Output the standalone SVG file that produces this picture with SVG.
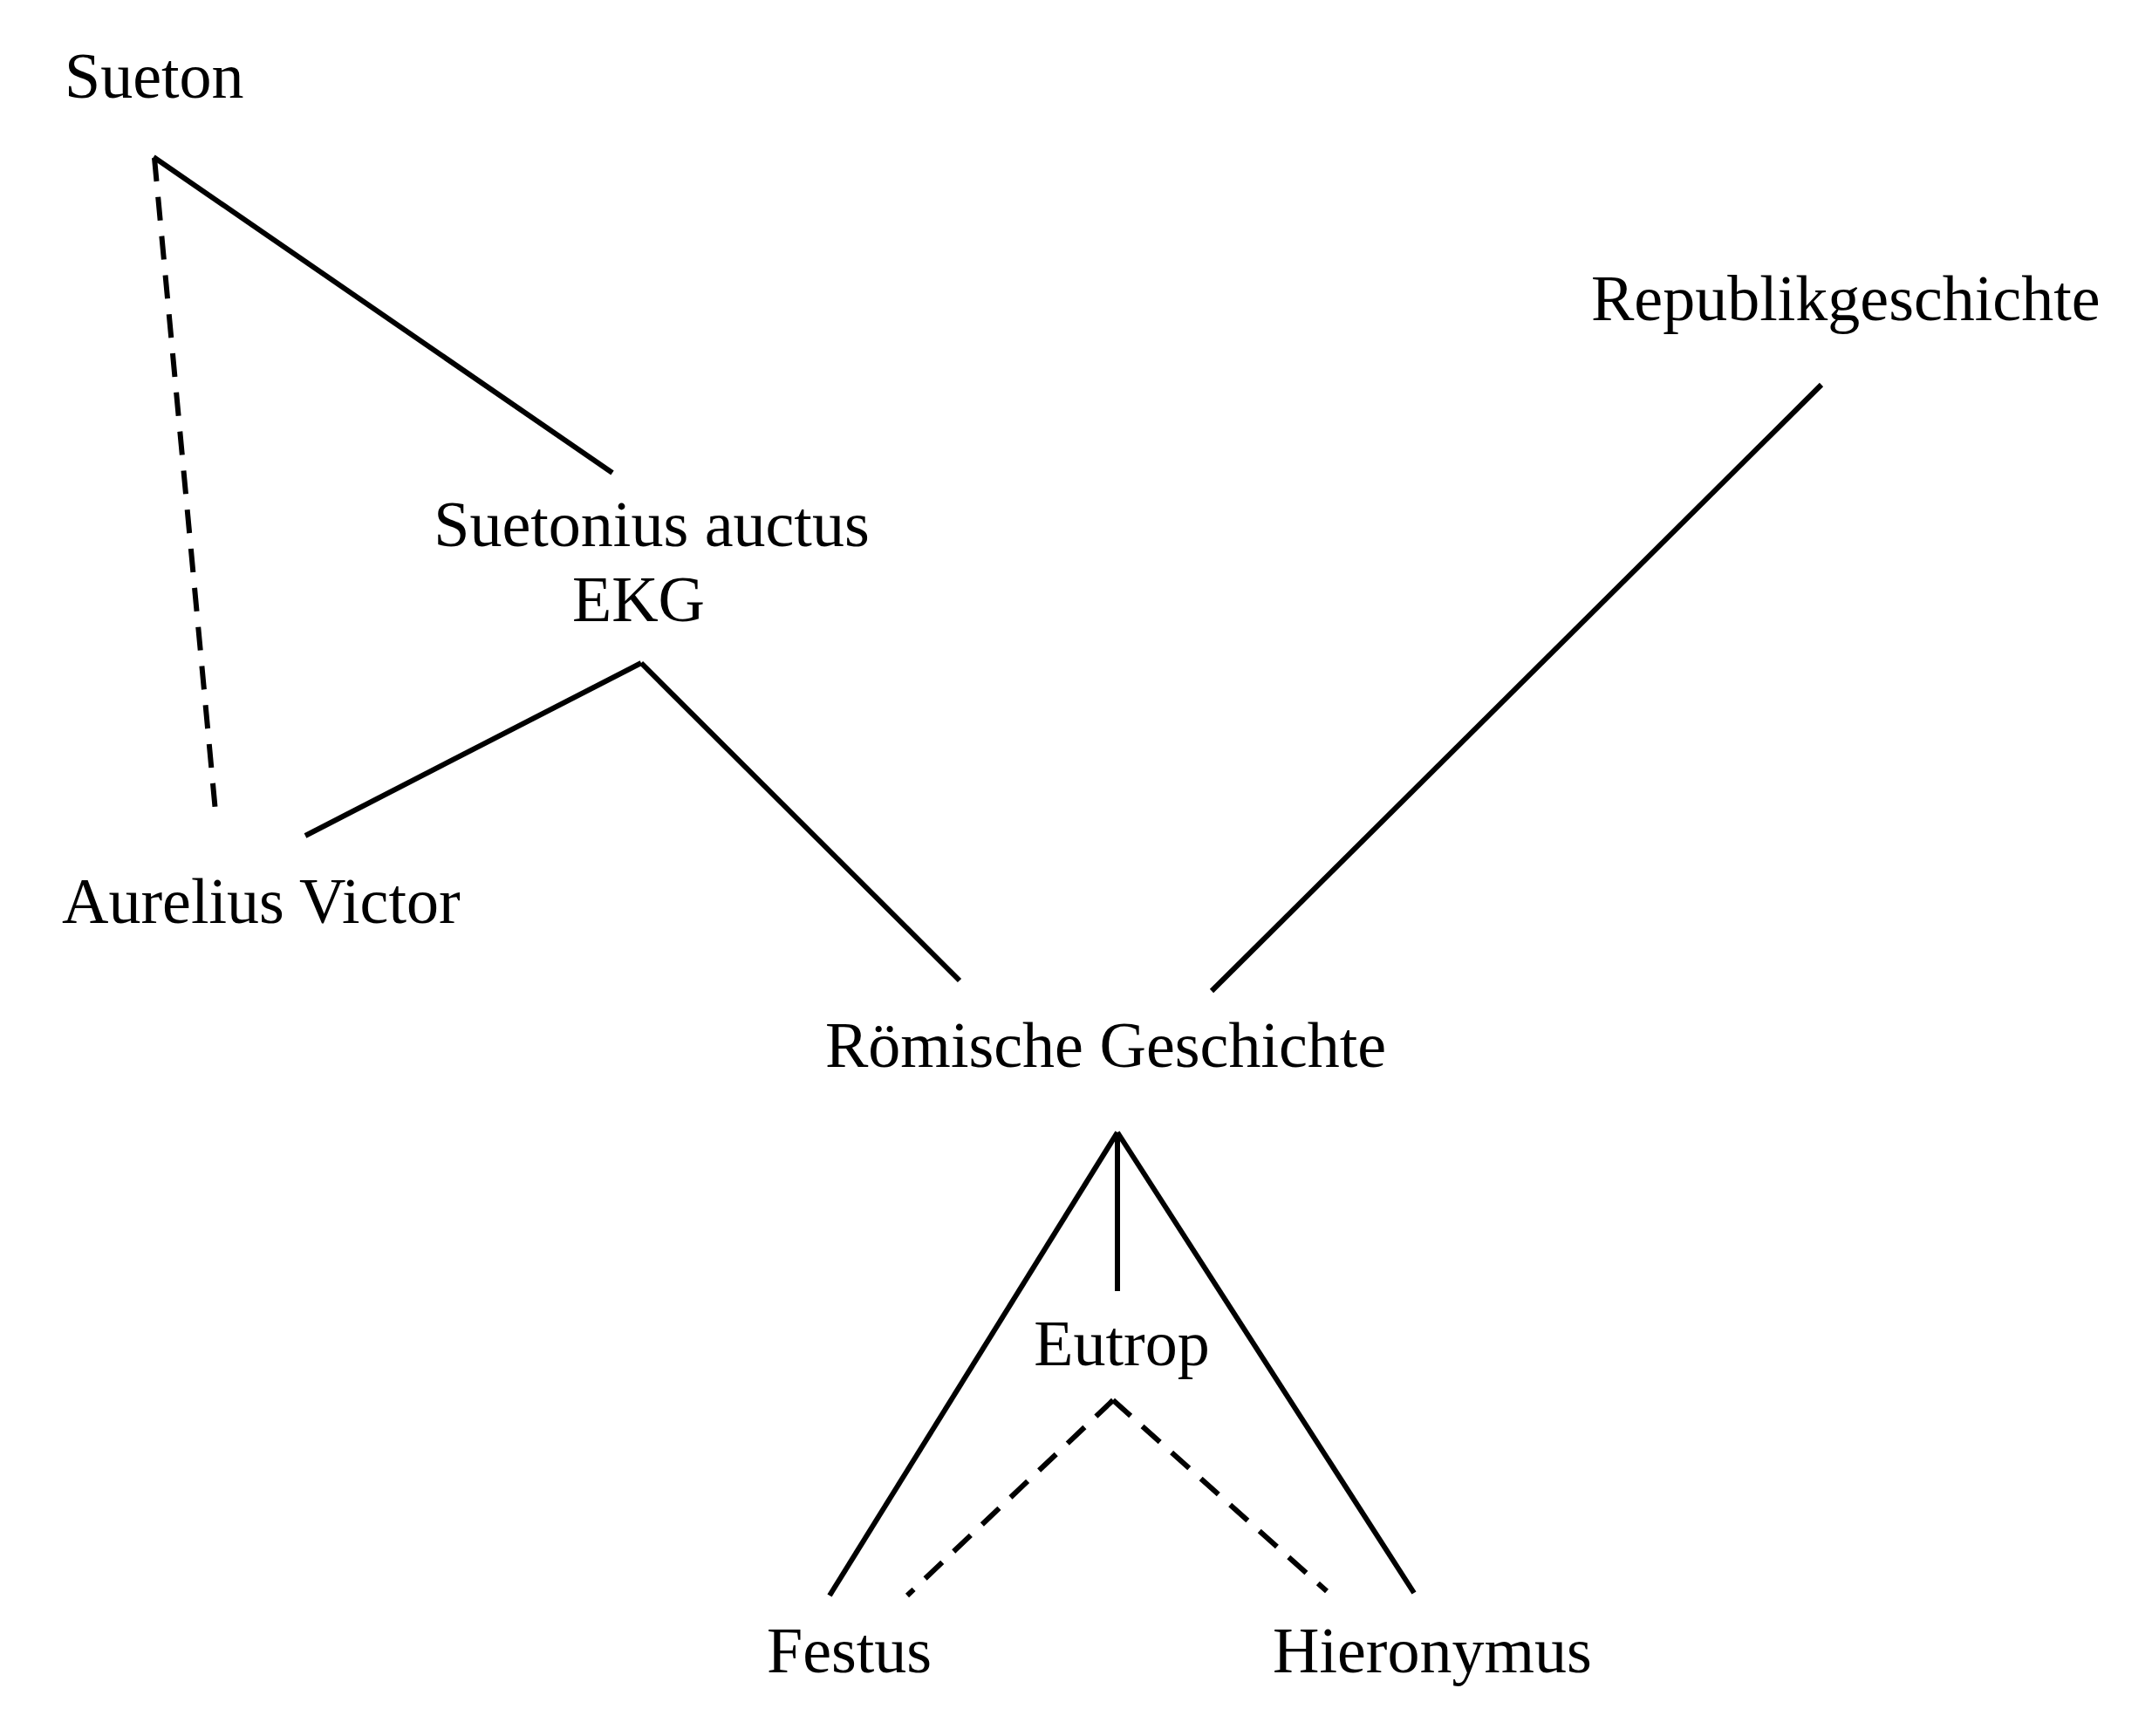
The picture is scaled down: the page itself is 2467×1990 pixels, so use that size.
<svg xmlns="http://www.w3.org/2000/svg" width="2467" height="1990" viewBox="0 0 2467 1990">
<style>
.lbl{font-family:"Liberation Serif","Times New Roman",serif;font-size:74px;fill:#000}
.ln{stroke:#000;stroke-width:6;fill:none;stroke-linecap:butt;stroke-linejoin:miter}
.dash{stroke-dasharray:27 18}
</style>
<rect width="2467" height="1990" fill="#fff"/>
<g id="connectors">
<line class="ln" x1="176" y1="180" x2="702" y2="542"/>
<line class="ln dash" x1="177" y1="181" x2="248" y2="941"/>
<line class="ln" x1="735" y1="760" x2="350" y2="958"/>
<line class="ln" x1="735" y1="760" x2="1100" y2="1124"/>
<line class="ln" x1="2088" y1="441" x2="1389" y2="1136"/>
<line class="ln" x1="1281" y1="1298" x2="951" y2="1829"/>
<line class="ln" x1="1281" y1="1298" x2="1281" y2="1480"/>
<line class="ln" x1="1281" y1="1298" x2="1621" y2="1826"/>
<line class="ln dash" x1="1276" y1="1605" x2="1040" y2="1829"/>
<line class="ln dash" x1="1276" y1="1605" x2="1521" y2="1824"/>
</g>
<g id="n-sueton"><text class="lbl" x="74" y="112">Sueton</text></g>
<g id="n-suetonius"><text class="lbl" x="747" y="626" text-anchor="middle">Suetonius auctus</text><text class="lbl" x="732" y="712" text-anchor="middle">EKG</text></g>
<g id="n-aurelius"><text class="lbl" x="71" y="1058">Aurelius Victor</text></g>
<g id="n-republik"><text class="lbl" x="1824" y="367">Republikgeschichte</text></g>
<g id="n-roemisch"><text class="lbl" x="946" y="1223">Römische Geschichte</text></g>
<g id="n-eutrop"><text class="lbl" x="1286" y="1565" text-anchor="middle">Eutrop</text></g>
<g id="n-festus"><text class="lbl" x="879" y="1917">Festus</text></g>
<g id="n-hieronymus"><text class="lbl" x="1459" y="1917">Hieronymus</text></g>
</svg>
